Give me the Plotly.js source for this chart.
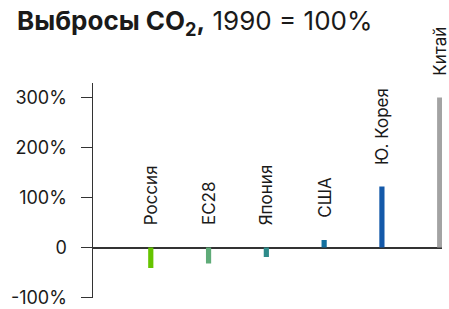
<!DOCTYPE html>
<html>
<head>
<meta charset="utf-8">
<script src="https://cdn.plot.ly/plotly-3.0.1.min.js"></script>
<style>
html,body{margin:0;padding:0;background:#fff;}
#chart{width:449px;height:309px;}
</style>
</head>
<body>
<div id="chart"></div>
<script>
const countries = ["Россия", "ЕС28", "Япония", "США", "Ю. Корея", "Китай"];
const changePct = [-41, -32, -19, 15, 122, 300];
const barColors = ["#66c400", "#5fab78", "#2e8b8a", "#13709f", "#1459a9", "#a3a3a3"];
const yTickVals = [-100, 0, 100, 200, 300];
const yTickText = ["-100%", "0", "100%", "200%", "300%"];

const FONT = "Inter, 'Noto Sans', sans-serif";

const trace = {
  type: "bar",
  x: countries,
  y: changePct,
  width: 0.09,
  marker: {color: barColors, line: {width: 0}},
  hoverinfo: "skip"
};

const annotations = countries.map((c, i) => ({
  x: c,
  y: Math.max(changePct[i], 0),
  xref: "x",
  yref: "y",
  text: c,
  textangle: -90,
  showarrow: false,
  xanchor: "center",
  yanchor: "bottom",
  yshift: 20,
  font: {family: FONT, size: 17, color: "#1a1a1a"}
}));

const layout = {
  width: 449,
  height: 309,
  margin: {l: 93, r: 7, t: 83, b: 11, pad: 0},
  paper_bgcolor: "#ffffff",
  plot_bgcolor: "#ffffff",
  showlegend: false,
  title: {
    text: "<b>Выбросы CO<sub>2</sub>,</b> 1990 = 100%",
    font: {family: FONT, size: 26, color: "#1a1a1a"},
    x: 17 / 449,
    xanchor: "left",
    xref: "container",
    y: 1 - 12 / 309,
    yanchor: "top",
    yref: "container"
  },
  xaxis: {
    type: "category",
    range: [-1, 5.04],
    showticklabels: false,
    showgrid: false,
    zeroline: false,
    showline: false,
    ticks: "",
    fixedrange: true
  },
  yaxis: {
    range: [-101, 329],
    tickvals: yTickVals,
    ticktext: yTickText,
    ticks: "outside",
    ticklen: 11,
    tickwidth: 1.5,
    tickcolor: "#333333",
    ticklabelstandoff: 10,
    showline: true,
    linecolor: "#333333",
    linewidth: 1.5,
    showgrid: false,
    zeroline: true,
    zerolinecolor: "#333333",
    zerolinewidth: 2,
    tickfont: {family: FONT, size: 18, color: "#1a1a1a"},
    fixedrange: true
  },
  annotations: annotations
};

Plotly.newPlot("chart", [trace], layout, {displayModeBar: false, staticPlot: true});
</script>
</body>
</html>
